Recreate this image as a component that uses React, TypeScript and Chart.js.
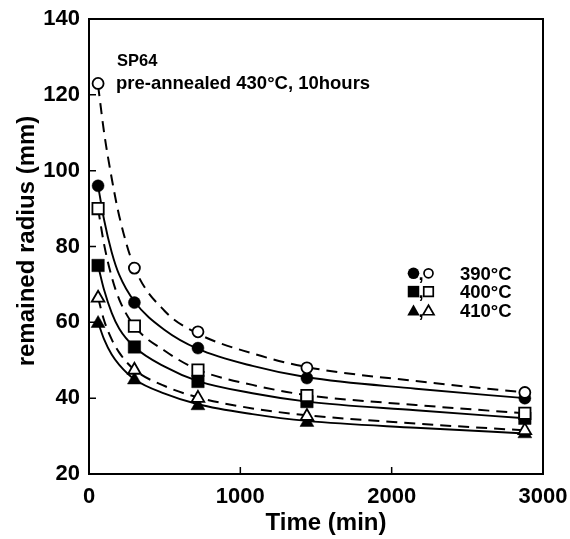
import { useEffect, useRef } from 'react';
import { Chart, registerables } from 'chart.js';

Chart.register(...registerables);

// ---- data ----
const MARK_T = [60, 300, 720, 1440, 2880];
const R390_OPEN = [123, 74.3, 57.5, 48, 41.5];
const R390_FILLED = [96, 65.2, 53.2, 45.3, 40];
const R400_OPEN = [90, 59, 47.4, 40.7, 36];
const R400_FILLED = [75, 53.5, 44.4, 39.1, 34.7];
const R410_OPEN = [66.4, 47.4, 40, 35.2, 31.5];
const R410_FILLED = [59.7, 44.8, 38, 33.6, 30.6];

const FIT_T = [60, 100, 150, 200, 300, 500, 720, 1080, 1440, 2160, 2880];
const FIT_390_OPEN = [122.5, 110, 98, 88, 74.5, 63, 57, 51.8, 48.2, 44.5, 41.5];
const FIT_390_FILLED = [96, 87, 78.5, 72.5, 65.5, 58, 53, 48.5, 45.5, 42.5, 40];
const FIT_400_OPEN = [90, 80.5, 72, 66, 59, 52.5, 47.5, 43.5, 40.8, 38.2, 36];
const FIT_400_FILLED = [75, 68.5, 62.5, 58.3, 53.5, 48.3, 44.5, 41.3, 39.1, 36.8, 34.7];
const FIT_410_OPEN = [66.5, 60.5, 55.5, 52, 47.5, 43.2, 40.2, 37.3, 35.5, 33.3, 31.5];
const FIT_410_FILLED = [60, 55.5, 51.5, 48.8, 45, 41.2, 38.4, 35.8, 34, 32.2, 30.7];

const X_TICKS = [0, 1000, 2000, 3000];
const Y_TICKS = [20, 40, 60, 80, 100, 120, 140];
const LEGEND_LABELS = ['390°C', '400°C', '410°C'];
const LEGEND_STYLES = ['circle', 'rect', 'triangle'];
const NOTE_1 = 'SP64';
const NOTE_2 = 'pre-annealed 430°C, 10hours';
const X_TITLE = 'Time (min)';
const Y_TITLE = 'remained radius (mm)';

const FONT = '"Liberation Sans", Arial, Helvetica, sans-serif';

function drawShape(ctx: CanvasRenderingContext2D, style: string, x: number, y: number, filled: boolean) {
  ctx.save();
  ctx.beginPath();
  if (style === 'circle') {
    ctx.arc(x, y, filled ? 5.8 : 4.5, 0, Math.PI * 2);
  } else if (style === 'rect') {
    const s = filled ? 11.5 : 9.5;
    ctx.rect(x - s / 2, y - s / 2, s, s);
  } else {
    const w = filled ? 12.5 : 11;
    const h = filled ? 11 : 9.5;
    ctx.moveTo(x, y - h / 2);
    ctx.lineTo(x + w / 2, y + h / 2);
    ctx.lineTo(x - w / 2, y + h / 2);
    ctx.closePath();
  }
  if (filled) {
    ctx.fillStyle = '#000';
    ctx.fill();
  } else {
    ctx.fillStyle = '#fff';
    ctx.fill();
    ctx.lineWidth = 1.7;
    ctx.strokeStyle = '#000';
    ctx.stroke();
  }
  ctx.restore();
}

const decor = {
  id: 'decor',
  afterDatasetsDraw(chart: any) {
    const { ctx, chartArea } = chart;
    const { left, right, top, bottom } = chartArea;
    const xs = chart.scales.x;
    const ys = chart.scales.y;
    ctx.save();
    ctx.strokeStyle = '#000';
    ctx.lineWidth = 2;
    ctx.strokeRect(left, top, right - left, bottom - top);
    ctx.lineWidth = 1.5;
    ctx.beginPath();
    Y_TICKS.forEach((v) => {
      const p = ys.getPixelForValue(v);
      ctx.moveTo(left, p);
      ctx.lineTo(left + 7, p);
    });
    X_TICKS.forEach((v) => {
      const p = xs.getPixelForValue(v);
      ctx.moveTo(p, bottom);
      ctx.lineTo(p, bottom - 7);
    });
    ctx.stroke();

    ctx.fillStyle = '#000';
    ctx.textBaseline = 'alphabetic';
    ctx.textAlign = 'left';
    ctx.font = `bold 16.5px ${FONT}`;
    ctx.fillText(NOTE_1, 117, 66);
    ctx.font = `bold 18.5px ${FONT}`;
    ctx.fillText(NOTE_2, 116, 89);

    // legend
    const rowY = [273.3, 291.6, 310];
    LEGEND_LABELS.forEach((lab, i) => {
      const cy = rowY[i];
      drawShape(ctx, LEGEND_STYLES[i], 413.5, cy, true);
      drawShape(ctx, LEGEND_STYLES[i], 428.5, cy, false);
      ctx.fillStyle = '#000';
      ctx.font = `bold 18.5px ${FONT}`;
      ctx.textAlign = 'left';
      ctx.fillText(',', 418.5, cy + 6.5);
      ctx.fillText(lab, 460, cy + 6.7);
    });

    // axis titles
    ctx.font = `bold 24px ${FONT}`;
    ctx.textAlign = 'center';
    ctx.fillText(X_TITLE, 326, 530);
    ctx.save();
    ctx.translate(34, 241);
    ctx.rotate(-Math.PI / 2);
    ctx.fillText(Y_TITLE, 0, 0);
    ctx.restore();
    ctx.restore();
  },
};

export default function App() {
  const ref = useRef<HTMLCanvasElement>(null);
  useEffect(() => {
    if (!ref.current) return;
    const pts = (xs: number[], vs: number[]) => xs.map((x, i) => ({ x, y: vs[i] }));
    const marker = (label: string, vs: number[], style: string, filled: boolean, r: number) => ({
      label,
      data: pts(MARK_T, vs),
      showLine: false,
      pointStyle: style,
      pointRadius: r,
      pointHoverRadius: r,
      pointBackgroundColor: filled ? '#000' : '#fff',
      pointBorderColor: '#000',
      pointBorderWidth: filled ? 0.5 : 1.8,
      order: 0,
    });
    const curve = (label: string, vs: number[], dashed: boolean) => ({
      label,
      data: pts(FIT_T, vs),
      showLine: true,
      pointRadius: 0,
      pointHoverRadius: 0,
      borderColor: '#000',
      borderWidth: dashed ? 2 : 1.9,
      borderDash: dashed ? [11, 7] : [],
      cubicInterpolationMode: 'monotone',
      fill: false,
      order: 1,
    });
    const chart = new Chart(ref.current, {
      type: 'scatter',
      data: {
        datasets: [
          marker('390°C open', R390_OPEN, 'circle', false, 5.5),
          marker('390°C filled', R390_FILLED, 'circle', true, 6),
          marker('400°C open', R400_OPEN, 'rect', false, 8),
          marker('400°C filled', R400_FILLED, 'rect', true, 8.8),
          marker('410°C open', R410_OPEN, 'triangle', false, 7.3),
          marker('410°C filled', R410_FILLED, 'triangle', true, 8),
          curve('390°C open fit', FIT_390_OPEN, true),
          curve('390°C filled fit', FIT_390_FILLED, false),
          curve('400°C open fit', FIT_400_OPEN, true),
          curve('400°C filled fit', FIT_400_FILLED, false),
          curve('410°C open fit', FIT_410_OPEN, true),
          curve('410°C filled fit', FIT_410_FILLED, false),
        ] as any,
      },
      options: {
        animation: false,
        responsive: false,
        layout: { padding: { left: 0, right: 27, top: 19, bottom: 0 } },
        plugins: { legend: { display: false }, tooltip: { enabled: false } },
        scales: {
          x: {
            type: 'linear',
            min: 0,
            max: 3000,
            grid: { display: false, drawTicks: false },
            border: { display: false },
            ticks: {
              stepSize: 1000,
              padding: 10,
              color: '#000',
              font: { family: FONT, size: 22, weight: 'bold' },
              maxRotation: 0,
              callback: (v: any) => String(v),
            },
            afterFit: (s: any) => {
              s.height = 65;
              s.paddingLeft = 0;
              s.paddingRight = 0;
            },
          },
          y: {
            type: 'linear',
            min: 20,
            max: 140,
            grid: { display: false, drawTicks: false },
            border: { display: false },
            ticks: {
              stepSize: 20,
              padding: 9,
              color: '#000',
              font: { family: FONT, size: 22, weight: 'bold' },
              callback: (v: any) => String(v),
            },
            afterFit: (s: any) => {
              s.width = 89;
              s.paddingTop = 0;
              s.paddingBottom = 0;
            },
          },
        },
      } as any,
      plugins: [decor],
    });
    return () => chart.destroy();
  }, []);
  return (
    <div style={{ position: 'fixed', left: 0, top: 0, width: 570, height: 539, background: '#fff' }}>
      <canvas ref={ref} width={570} height={539} style={{ display: 'block' }} />
    </div>
  );
}
